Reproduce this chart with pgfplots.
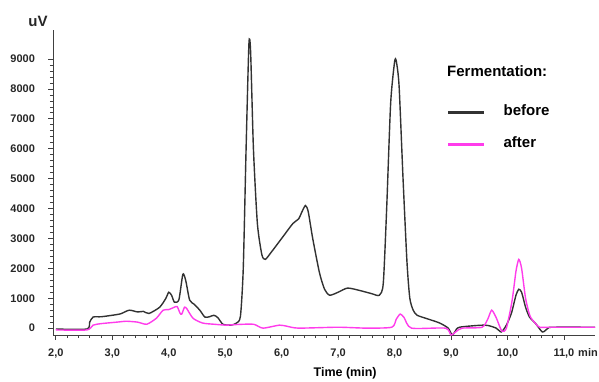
\documentclass[border=0pt]{standalone}
\usepackage{pgfplots}
\pgfplotsset{compat=1.18}
\usepackage{fontspec}
\setmainfont{Liberation Sans}
\definecolor{before}{RGB}{50,50,50}
\definecolor{after}{RGB}{255,60,235}
\begin{document}
\begin{tikzpicture}[x=1pt,y=1pt]
\useasboundingbox (0,0) rectangle (599,381);
\begin{axis}[
  at={(53pt,46pt)}, anchor=south west,
  scale only axis, width=542pt, height=305pt,
  xmin=1.95, xmax=11.55, ymin=-230, ymax=9970,
  axis lines=left, axis line style={-, draw=black!75, line width=1pt},
  every tick/.style={black!75, line width=0.7pt},
  tick align=outside,
  major tick length=4.5pt, minor tick length=3pt,
  xtick={2,3,4,5,6,7,8,9,10,11},
  xticklabels={{2,0},{3,0},{4,0},{5,0},{6,0},{7,0},{8,0},{9,0},{10,0},{11,0}},
  minor x tick num=4,
  ytick={0,1000,2000,3000,4000,5000,6000,7000,8000,9000},
  minor y tick num=4,
  /pgf/number format/assume math mode=true,
  /pgf/number format/1000 sep={},
  ticklabel style={font=\bfseries\fontsize{11}{13}\selectfont, text=black!85},
  yticklabel style={xshift=-10pt},
  xticklabel style={yshift=-6pt},
  xlabel={Time (min)},
  xlabel style={font=\bfseries\fontsize{12.5}{14}\selectfont, at={(axis description cs:0.539,-0.125)}, anchor=center},
  legend style={draw=none, fill=none, inner sep=0pt, at={(axis description cs:0.727,0.758)}, anchor=north west,
    font=\bfseries\fontsize{15}{18}\selectfont, row sep=21pt,
    nodes={inner sep=0pt, text height=11pt, text depth=0pt},
    /tikz/every odd column/.append style={column sep=18pt}},
  legend cell align=left,
  legend image code/.code={\draw[#1, line width=2.4pt] (0pt,-3pt) -- (36pt,-3pt);},
]
\addplot[before, line width=1.4pt, smooth, tension=0.4] coordinates {
(2.0,-30) (2.55,-30) (2.6,200) (2.66,370) (2.8,380) (3.0,430) (3.15,480) (3.3,600) (3.45,540) (3.55,560) (3.65,490) (3.84,700) (3.95,1000) (4.0,1200) (4.05,1100) (4.1,870) (4.18,950) (4.25,1800) (4.3,1600) (4.37,940) (4.45,800) (4.55,600) (4.64,370) (4.72,380) (4.8,430) (4.87,350) (4.96,130) (5.1,100) (5.2,170) (5.27,400) (5.32,2000) (5.37,6000) (5.42,9500) (5.45,9250) (5.5,6000) (5.57,3500) (5.65,2450) (5.71,2300) (5.8,2500) (6.0,3000) (6.2,3500) (6.3,3650) (6.35,3850) (6.42,4100) (6.47,3900) (6.55,3000) (6.67,1850) (6.76,1300) (6.85,1100) (7.0,1200) (7.17,1340) (7.4,1250) (7.6,1150) (7.73,1100) (7.8,1500) (7.86,4000) (7.93,7500) (8.0,8900) (8.03,8930) (8.08,8100) (8.15,5000) (8.22,2200) (8.27,1000) (8.33,600) (8.4,430) (8.6,300) (8.8,170) (8.95,0) (9.02,-230) (9.07,-120) (9.15,30) (9.6,100) (9.8,0) (9.89,-130) (9.98,100) (10.07,500) (10.15,1100) (10.2,1300) (10.25,1200) (10.32,700) (10.39,370) (10.5,150) (10.62,-130) (10.72,0) (10.8,30) (11.55,30)
};
\addlegendentry{before}
\addplot[after, line width=1.4pt, smooth, tension=0.4] coordinates {
(2.0,-60) (2.55,-60) (2.66,100) (2.8,150) (3.08,200) (3.25,230) (3.45,200) (3.61,130) (3.78,330) (3.9,600) (4.0,620) (4.1,700) (4.15,720) (4.2,500) (4.23,470) (4.28,700) (4.32,650) (4.43,330) (4.6,170) (4.8,130) (5.02,100) (5.2,120) (5.5,130) (5.67,0) (5.96,100) (6.1,60) (6.3,0) (7.0,30) (7.5,0) (7.95,30) (8.03,300) (8.1,470) (8.17,350) (8.3,0) (8.9,0) (9.0,-230) (9.1,-100) (9.2,0) (9.55,30) (9.65,300) (9.72,600) (9.8,350) (9.9,-100) (9.98,0) (10.08,900) (10.15,1900) (10.2,2300) (10.25,2000) (10.32,1000) (10.4,400) (10.5,150) (10.57,30) (10.8,30) (11.55,30)
};
\addlegendentry{after}
\node[anchor=west, inner sep=0pt, font=\bfseries\fontsize{15}{18}\selectfont] at (axis description cs:0.727,0.866) {Fermentation:};
\end{axis}
\node[font=\bfseries\fontsize{15}{18}\selectfont, text=black!85] at (38,360) {uV};
\node[font=\bfseries\fontsize{11}{13}\selectfont, text=black!85] at (588,28) {min};
\end{tikzpicture}
\end{document}
